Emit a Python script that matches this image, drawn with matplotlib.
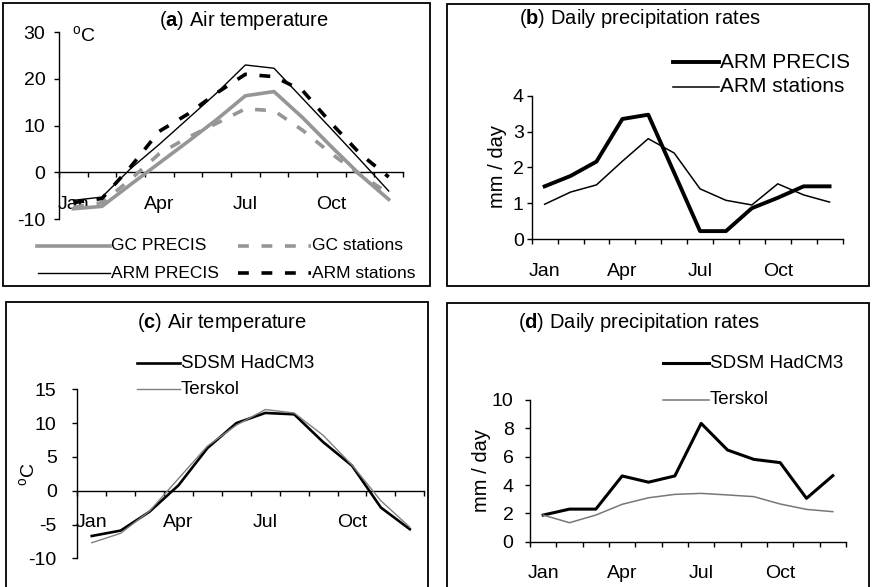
import matplotlib
matplotlib.use('Agg')
import matplotlib.pyplot as plt
import numpy as np
from matplotlib.lines import Line2D
from matplotlib.patches import Rectangle

plt.rcParams['font.family'] = ['Liberation Sans', 'DejaVu Sans']
plt.rcParams['mathtext.fontset'] = 'custom'
plt.rcParams['mathtext.rm'] = 'Liberation Sans'
plt.rcParams['mathtext.bf'] = 'Liberation Sans:bold'
plt.rcParams['axes.unicode_minus'] = False

# monthly means
months = ['Jan', 'Feb', 'Mar', 'Apr', 'May', 'Jun',
          'Jul', 'Aug', 'Sep', 'Oct', 'Nov', 'Dec']
month_ticks = ['Jan', 'Apr', 'Jul', 'Oct']

# (a) air temperature, deg C
gc_precis = [-7.8, -7.3, -2.6, 2.0, 6.6, 11.3, 16.4, 17.3, 11.7, 5.5, -0.5, -5.8]
gc_stations = [-7.5, -6.5, -1.5, 4.0, 7.5, 10.5, 13.6, 13.2, 9.0, 4.0, -0.5, -4.5]
arm_precis_t = [-6.0, -5.3, 0.8, 6.0, 11.5, 17.0, 23.0, 22.3, 15.8, 9.3, 2.7, -4.0]
arm_stations_t = [-6.5, -5.6, 1.2, 8.8, 12.5, 17.0, 21.0, 20.5, 17.5, 10.5, 4.0, -1.0]

# (b) daily precipitation, mm/day
arm_precis_p = [1.47, 1.76, 2.16, 3.35, 3.47, 1.85, 0.22, 0.22, 0.86, 1.15, 1.47, 1.47]
arm_stations_p = [0.97, 1.31, 1.51, 2.17, 2.80, 2.40, 1.40, 1.08, 0.95, 1.54, 1.23, 1.03]

# (c) air temperature, deg C
sdsm_t = [-6.7, -5.9, -3.1, 0.8, 6.3, 10.0, 11.5, 11.3, 7.2, 3.7, -2.5, -5.7]
terskol_t = [-7.7, -6.3, -3.0, 1.8, 6.6, 9.7, 12.0, 11.5, 8.2, 3.8, -1.5, -5.4]

# (d) daily precipitation, mm/day
sdsm_p = [1.88, 2.30, 2.30, 4.64, 4.20, 4.64, 8.35, 6.47, 5.81, 5.58, 3.06, 4.66]
terskol_p = [1.88, 1.34, 1.88, 2.64, 3.10, 3.34, 3.41, 3.30, 3.18, 2.66, 2.28, 2.12]

W, H = 872, 587
fig = plt.figure(figsize=(W / 100, H / 100), dpi=100)


def fx(x):
    return x / W


def fy(y):
    return 1 - y / H


def panel_axes(left, top, right, bottom):
    return fig.add_axes([fx(left), fy(bottom), (right - left) / W, (bottom - top) / H])


def frame(left, top, right, bottom):
    fig.add_artist(Rectangle((fx(left), fy(bottom)), (right - left) / W, (bottom - top) / H,
                             transform=fig.transFigure, fill=False, lw=1.3, ec='black'))


def style_axes(ax, ylim, ystep, zero_axis, ypad):
    x = np.arange(len(months))
    ax.set_xlim(-0.5, len(months) - 0.5)
    ax.set_ylim(*ylim)
    ax.set_yticks(np.arange(ylim[0], ylim[1] + ystep / 2, ystep))
    ax.set_xticks([months.index(m) for m in month_ticks])
    ax.set_xticklabels(month_ticks)
    ax.set_xticks(np.append(x - 0.5, len(months) - 0.5), minor=True)
    for s in ['top', 'right']:
        ax.spines[s].set_visible(False)
    for s in ['left', 'bottom']:
        ax.spines[s].set_linewidth(1.0)
    if zero_axis:
        ax.spines['bottom'].set_position(('data', 0))
    ax.tick_params(axis='x', which='major', length=0, pad=17, labelsize=14)
    ax.tick_params(axis='x', which='minor', length=3.8, width=1.0, direction='out')
    ax.tick_params(axis='y', length=3.8, width=1.0, pad=ypad, labelsize=14)
    ax.patch.set_alpha(0)


def legend_row(x0, x1, y, text, size, **kw):
    fig.add_artist(Line2D([fx(x0), fx(x1)], [fy(y), fy(y)], transform=fig.transFigure, **kw))
    fig.text(fx(x1 + 1), fy(y), text, fontsize=size, ha='left', va='center')


x = np.arange(len(months))
dash = (0, (3, 3.5))

# panel frames
frame(3, 3, 430, 286)
frame(447, 4, 869, 286)
frame(6, 302, 428, 590)
frame(447, 303, 869, 590)

# (a) Air temperature
ax = panel_axes(59, 32.3, 403, 219)
style_axes(ax, (-10, 30), 10, True, 6)
ax.plot(x, gc_precis, color='#969696', lw=2.6, zorder=3)
ax.plot(x, gc_stations, color='#969696', lw=2.6, ls=dash, zorder=3)
ax.plot(x, arm_precis_t, color='black', lw=1.0, zorder=3)
ax.plot(x, arm_stations_t, color='black', lw=2.6, ls=dash, zorder=3)
fig.text(fx(72), fy(36), r'$^{\mathrm{o}}$C', fontsize=14, ha='left', va='center')
fig.text(fx(244.5), fy(20), r'($\mathbf{a}$) Air temperature', fontsize=14.5,
         ha='center', va='center')
legend_row(37, 110, 246, 'GC PRECIS', 12.5, color='#969696', lw=2.6)
legend_row(238, 311, 246, 'GC stations', 12.5, color='#969696', lw=2.6, ls=dash)
legend_row(38, 110, 273, 'ARM PRECIS', 12.5, color='black', lw=1.0)
legend_row(238, 311, 273, 'ARM stations', 12.5, color='black', lw=2.6, ls=dash)

# (b) Daily precipitation rates
ax = panel_axes(531.7, 95.7, 842.5, 239)
style_axes(ax, (0, 4), 1, False, 2)
ax.plot(x, arm_precis_p, color='black', lw=2.8, zorder=3)
ax.plot(x, arm_stations_p, color='black', lw=1.1, zorder=3)
fig.text(fx(497), fy(167), 'mm / day', fontsize=14.5, rotation=90, ha='center', va='center')
fig.text(fx(640), fy(19), r'($\mathbf{b}$) Daily precipitation rates', fontsize=14.5,
         ha='center', va='center')
legend_row(673, 719, 62, 'ARM PRECIS', 15, color='black', lw=2.8)
legend_row(673, 719, 87, 'ARM stations', 15, color='black', lw=1.1)

# (c) Air temperature
ax = panel_axes(77.3, 389.3, 424.3, 558.3)
style_axes(ax, (-10, 15), 5, True, 11)
ax.plot(x, sdsm_t, color='black', lw=1.9, zorder=3)
ax.plot(x, terskol_t, color='#808080', lw=1.0, zorder=3)
fig.text(fx(29), fy(474), r'$^{\mathrm{o}}$C', fontsize=14, rotation=90, ha='center', va='center')
fig.text(fx(222), fy(323), r'($\mathbf{c}$) Air temperature', fontsize=14.5,
         ha='center', va='center')
legend_row(137, 180, 363, 'SDSM HadCM3', 13.5, color='black', lw=1.9)
legend_row(137, 180, 389, 'Terskol', 13.5, color='#808080', lw=1.0)

# (d) Daily precipitation rates
ax = panel_axes(530, 400, 846, 541.7)
style_axes(ax, (0, 10), 2, False, 8)
ax.plot(x, sdsm_p, color='black', lw=2.2, zorder=3)
ax.plot(x, terskol_p, color='#777777', lw=1.1, zorder=3)
fig.text(fx(481), fy(471), 'mm / day', fontsize=14.5, rotation=90, ha='center', va='center')
fig.text(fx(639), fy(323), r'($\mathbf{d}$) Daily precipitation rates', fontsize=14.5,
         ha='center', va='center')
legend_row(663, 709, 363, 'SDSM HadCM3', 13.5, color='black', lw=2.2)
legend_row(663, 709, 400, 'Terskol', 13.5, color='#777777', lw=1.1)

fig.savefig('out.png', dpi=100)
